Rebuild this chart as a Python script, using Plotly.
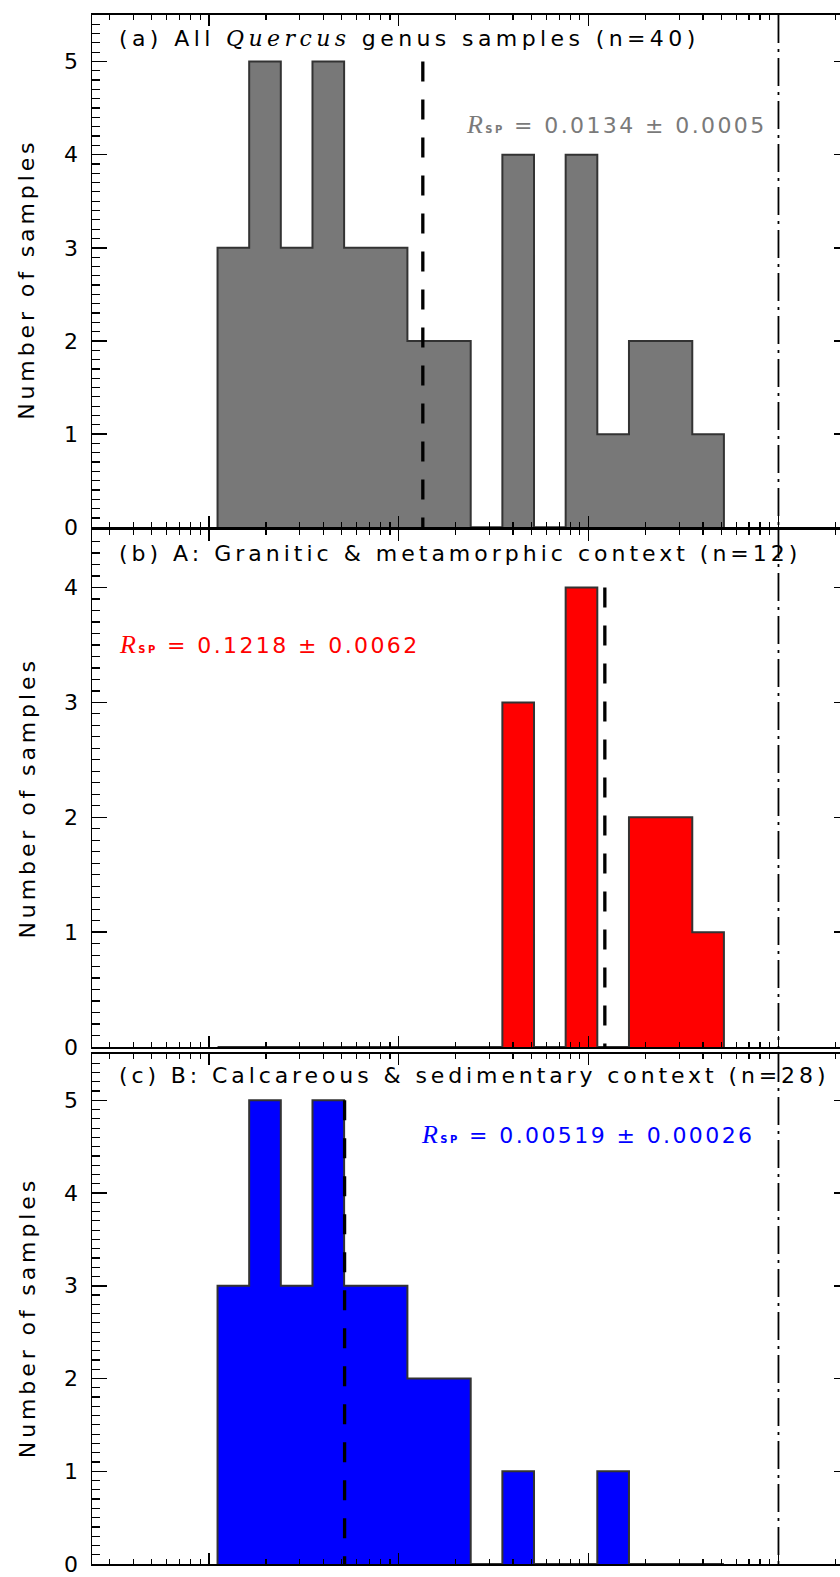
import plotly.graph_objects as go

# ---------------- data ----------------
# histogram bin edges (R_sp, log-spaced, 1/6 decade wide)
bin_edges = [0.001112, 0.001632, 0.002395, 0.003516, 0.005160, 0.007574,
             0.011117, 0.01632, 0.02395, 0.03516, 0.05160, 0.07574,
             0.11117, 0.1632, 0.2395, 0.3516, 0.5160]
counts_all = [3, 5, 3, 5, 3, 3, 2, 2, 0, 4, 0, 4, 1, 2, 2, 1]
counts_granitic = [0, 0, 0, 0, 0, 0, 0, 0, 0, 3, 0, 4, 0, 2, 2, 1]
counts_calcareous = [3, 5, 3, 5, 3, 3, 2, 2, 0, 1, 0, 0, 1, 0, 0, 0]

mean_rsp = [0.0134, 0.1218, 0.00519]
mean_err = ["0.0005", "0.0062", "0.00026"]
mean_txt = ["0.0134", "0.1218", "0.00519"]
ref_line_x = 1.0

panel_titles = [
    "(a) All <span style='font-family:DejaVu Serif'><i>Quercus</i></span> genus samples (n=40)",
    "(b) A: Granitic &amp; metamorphic context (n=12)",
    "(c) B: Calcareous &amp; sedimentary context (n=28)",
]
fill_colors = ["#787878", "#ff0000", "#0000ff"]
text_colors = ["#7a7a7a", "#ff0000", "#0000ff"]
y_max = [5.5, 4.5, 5.5]
y_title = "Number of samples"

# ---------------- layout geometry ----------------
W, H = 840, 1577
L = 92
PW = W - L


def px2x(px):
    return (px - L) / PW


def py2y(py):
    return 1 - py / H


panel_px = [(15, 531.7), (534.5, 1055.7), (1062.7, 1577)]
xrange_log = [-3.615, 0.324]

fig = go.Figure()

count_sets = [counts_all, counts_granitic, counts_calcareous]
for i, counts in enumerate(count_sets):
    xa = "x" if i == 0 else f"x{i+1}"
    ya = "y" if i == 0 else f"y{i+1}"
    xs = [bin_edges[0]] + bin_edges[:-1] + [bin_edges[-1], bin_edges[-1]]
    ys = [0] + counts + [counts[-1], 0]
    fig.add_trace(go.Scatter(
        x=xs, y=ys, mode="lines", line=dict(shape="hv", color="#333333", width=2),
        fill="toself", fillcolor=fill_colors[i], xaxis=xa, yaxis=ya,
        hoverinfo="skip", showlegend=False))
    # mean dashed line
    fig.add_trace(go.Scatter(
        x=[mean_rsp[i], mean_rsp[i]], y=[max(counts), 0], mode="lines",
        line=dict(color="black", width=3.3, dash="20px,18px"),
        xaxis=xa, yaxis=ya, hoverinfo="skip", showlegend=False))
    # reference dash-dot line
    fig.add_trace(go.Scatter(
        x=[ref_line_x, ref_line_x], y=[y_max[i], 0], mode="lines",
        line=dict(color="black", width=1.8, dash="28px,6px,3px,6px"),
        xaxis=xa, yaxis=ya, hoverinfo="skip", showlegend=False))
    # dummy trace for right-side tick axis
    fig.add_trace(go.Scatter(x=[None], y=[None], xaxis=xa, yaxis=f"y{i+4}",
                             showlegend=False, hoverinfo="skip"))

major_x = [1e-3, 1e-2, 1e-1, 1]
minor_x = [m * 10.0 ** d for d in range(-4, 1) for m in range(2, 10)]

font_main = "DejaVu Sans"
layout = dict(width=W, height=H, margin=dict(l=L, r=0, t=0, b=0),
              plot_bgcolor="white", paper_bgcolor="white", showlegend=False,
              font=dict(family=font_main, size=22, color="black"))

for i in range(3):
    top, bot = panel_px[i]
    xkey = "xaxis" if i == 0 else f"xaxis{i+1}"
    ykey = "yaxis" if i == 0 else f"yaxis{i+1}"
    yname = "y" if i == 0 else f"y{i+1}"
    xname = "x" if i == 0 else f"x{i+1}"
    layout[xkey] = dict(
        type="log", range=xrange_log, domain=[0, 1], anchor=yname,
        tickmode="array", tickvals=major_x, ticks="inside", ticklen=11,
        tickwidth=1.5, tickcolor="black", showticklabels=False,
        minor=dict(tickmode="array", tickvals=minor_x, ticks="inside",
                   ticklen=5, tickwidth=1.2, tickcolor="black", showgrid=False),
        showline=True, linecolor="black", linewidth=2.2, mirror="ticks",
        showgrid=False, zeroline=False)
    layout[ykey] = dict(
        range=[0, y_max[i]], domain=[py2y(bot), py2y(top)], anchor=xname,
        tickmode="linear", tick0=0, dtick=1, ticks="inside", ticklen=15,
        tickwidth=1.5, tickcolor="black", ticklabelstandoff=8,
        tickfont=dict(family=font_main, size=22, color="black"),
        minor=dict(tickmode="linear", tick0=0, dtick=0.1, ticks="inside",
                   ticklen=8, tickwidth=1.2, tickcolor="black", showgrid=False),
        showline=True, linecolor="black", linewidth=1.5, mirror=False,
        showgrid=False, zeroline=False)
    layout[f"yaxis{i+4}"] = dict(
        range=[0, y_max[i]], overlaying=yname, side="right", anchor=xname,
        tickmode="linear", tick0=0, dtick=1, ticks="inside", ticklen=6,
        tickwidth=1.5, tickcolor="black", showticklabels=False,
        showline=False, showgrid=False, zeroline=False)

annotations = []
title_py = [39, 558, 1084]
for i in range(3):
    annotations.append(dict(
        text=panel_titles[i], xref="paper", yref="paper",
        x=px2x(117), y=py2y(title_py[i]), xanchor="left", yanchor="middle",
        align="left", showarrow=False,
        font=dict(family=font_main, size=22, color="black")))

rsp_px = [(464, 126), (117, 650), (419, 1144)]
for i in range(3):
    txt = ("<span style='font-family:Liberation Serif;font-size:26px'><i>R</i></span>"
           "<span style='font-size:10px'><b>SP</b></span> = "
           f"{mean_txt[i]} ± {mean_err[i]}")
    annotations.append(dict(
        text=txt, xref="paper", yref="paper",
        x=px2x(rsp_px[i][0]), y=py2y(rsp_px[i][1]), xanchor="left",
        yanchor="middle", align="left", showarrow=False,
        font=dict(family=font_main, size=22, color=text_colors[i])))

ytitle_py = [282, 805, 1329]
for i in range(3):
    annotations.append(dict(
        text=y_title, xref="paper", yref="paper", x=px2x(27),
        y=py2y(ytitle_py[i]), xanchor="center", yanchor="middle",
        textangle=-90, showarrow=False,
        font=dict(family=font_main, size=22, color="black")))

layout["annotations"] = annotations
fig.update_layout(**layout)

spacing_js = """
document.documentElement.style.margin = '0';
document.documentElement.style.overflow = 'hidden';
document.body.style.margin = '0';
document.body.style.padding = '0';
var sp = ['4.4px','4.0px','3.9px','2.4px','2.4px','2.4px','3.9px','3.9px','3.9px'];
var anns = document.querySelectorAll('.annotation-text');
anns.forEach(function(e, k){ if (k < sp.length) { e.style.letterSpacing = sp[k]; } });
"""

fig.write_html("out.html", post_script=spacing_js,
               config={"displayModeBar": False, "staticPlot": True})
